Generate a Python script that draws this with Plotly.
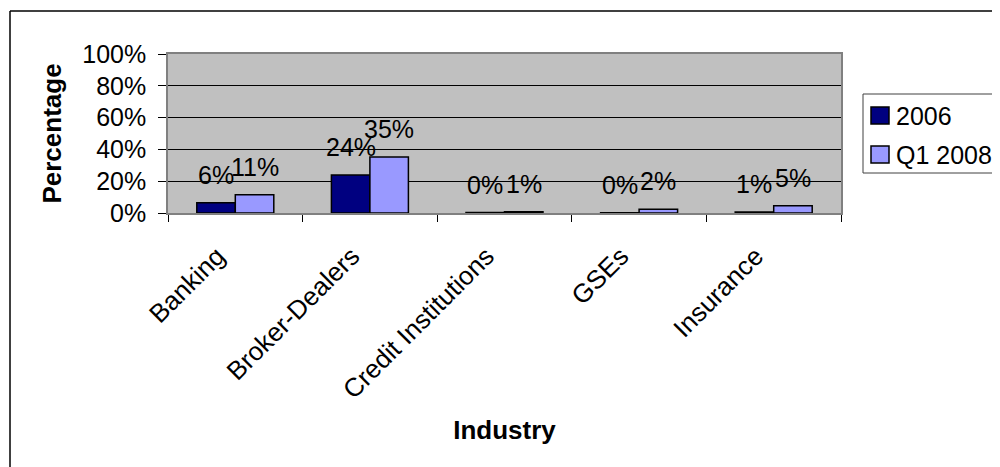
import plotly.graph_objects as go

categories = ["Banking", "Broker-Dealers", "Credit Institutions", "GSEs", "Insurance"]
series_names = ["2006", "Q1 2008"]
values_2006 = [6.4, 23.9, 0.3, 0.1, 0.7]
values_2008 = [11.4, 35.2, 0.8, 2.4, 4.6]
label_2006 = ["6%", "24%", "0%", "0%", "1%"]
label_2008 = ["11%", "35%", "1%", "2%", "5%"]
y_ticks = [0, 20, 40, 60, 80, 100]
colors = ["#000080", "#9999FF"]

FONT = "Liberation Sans, Arial, sans-serif"
OFF = 8  # page body margin
W, H = 1000, 467
# plot area in page pixels: x 168..841, y 54..213
PL, PR, PT, PB = 168, 841, 54, 213
L = PL - OFF
T = PT - OFF
R = W - (PR - OFF)
B = H - (PB - OFF)
pw = PR - PL
ph = PB - PT


def px_x(p):
    return (p - PL) / pw


def px_y(p):
    return (PB - p) / ph


fig = go.Figure()
for i, (name, vals) in enumerate(zip(series_names, [values_2006, values_2008])):
    fig.add_trace(go.Bar(
        x=categories, y=vals, name=name,
        marker=dict(color=colors[i], line=dict(color="black", width=1.5)),
        showlegend=False,
        hoverinfo="x+y",
    ))

half = pw / len(categories) * (1 - 0.428) / 4
annotations = []
for vals, labs, shift in [(values_2006, label_2006, -half), (values_2008, label_2008, half)]:
    for c, v, t in zip(categories, vals, labs):
        annotations.append(dict(
            x=c, y=v, xref="x", yref="y", text=t, showarrow=False,
            xshift=shift, yshift=12, yanchor="bottom", xanchor="center",
            font=dict(family=FONT, size=25, color="black"),
        ))

shapes = [
    # outer chart frame (left and top edges visible)
    dict(type="line", xref="paper", yref="paper",
         x0=px_x(10), x1=px_x(1020), y0=px_y(11), y1=px_y(11),
         line=dict(color="black", width=1.5)),
    dict(type="line", xref="paper", yref="paper",
         x0=px_x(10), x1=px_x(10), y0=px_y(11), y1=px_y(490),
         line=dict(color="black", width=1.5)),
    # legend box
    dict(type="rect", xref="paper", yref="paper",
         x0=px_x(863), x1=px_x(1020), y0=px_y(94), y1=px_y(173),
         line=dict(color="#404040", width=1), fillcolor="white"),
]

legend_centers = [115.5, 154.5]
for i, name in enumerate(series_names):
    cy = legend_centers[i]
    shapes.append(dict(
        type="rect", xref="paper", yref="paper",
        x0=px_x(871), x1=px_x(889), y0=px_y(cy + 8.5), y1=px_y(cy - 8.5),
        line=dict(color="black", width=1.5), fillcolor=colors[i]))
    annotations.append(dict(
        x=px_x(894), y=px_y(cy), xref="paper", yref="paper", text=name,
        showarrow=False, xanchor="left", yanchor="middle",
        font=dict(family=FONT, size=25, color="black")))

fig.update_layout(
    width=W, height=H,
    margin=dict(l=L, r=R, t=T, b=B, autoexpand=False),
    paper_bgcolor="white",
    plot_bgcolor="#C0C0C0",
    barmode="group",
    bargap=0.428,
    bargroupgap=0,
    font=dict(family=FONT, size=25, color="black"),
    showlegend=False,
    annotations=annotations,
    shapes=shapes,
)

fig.update_xaxes(
    type="category",
    tickson="boundaries",
    ticks="outside", ticklen=7, tickcolor="black", tickwidth=1,
    tickangle=-45,
    ticklabelshift=-18, ticklabelstandoff=16,
    tickfont=dict(family=FONT, size=26, color="black"),
    showline=True, linecolor="#808080", linewidth=1.5, mirror=True,
    showgrid=False,
    title=dict(text="<b>Industry</b>", font=dict(family=FONT, size=26, color="black"), standoff=17),
    automargin=False,
)
fig.update_yaxes(
    range=[0, 100],
    tickvals=y_ticks, ticktext=[f"{v}%" for v in y_ticks],
    ticks="outside", ticklen=8, tickcolor="black", tickwidth=1,
    ticklabelstandoff=7,
    tickfont=dict(family=FONT, size=25, color="black"),
    showline=True, linecolor="#808080", linewidth=1.5, mirror=True,
    showgrid=True, gridcolor="black", gridwidth=1,
    zeroline=False,
    title=dict(text="<b>Percentage</b>", font=dict(family=FONT, size=26, color="black"), standoff=13),
    automargin=False,
)

fig.write_html("out.html")
